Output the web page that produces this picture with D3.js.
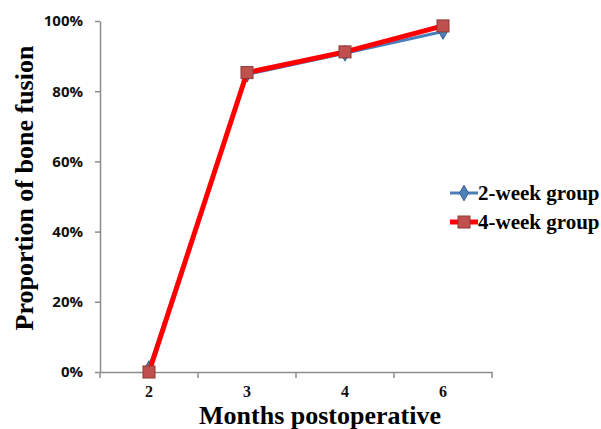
<!DOCTYPE html>
<html><head><meta charset="utf-8">
<script src="https://cdn.jsdelivr.net/npm/d3@7"></script>
<style>body{margin:0;background:#fff}</style>
</head><body>
<svg id="c" width="601" height="429"></svg>
<script>
const categories = ["2", "3", "4", "6"];
const series1Name = "2-week group";
const series1 = [0.01, 0.848, 0.908, 0.970];
const series2Name = "4-week group";
const series2 = [0.0, 0.853, 0.912, 0.986];
const yTicks = [0, 0.2, 0.4, 0.6, 0.8, 1.0];

(function () {
const svg = d3.select("#c");
const mLeft = 100, mRight = 492, mTop = 21, mBottom = 372;
const x = d3.scaleBand().domain(categories).range([mLeft, mRight]);
const y = d3.scaleLinear().domain([0, 1]).range([mBottom, mTop]);

const axisColor = "#8c8c8c";
// y axis
const ya = svg.append("g").attr("transform", `translate(${mLeft},0)`)
  .call(d3.axisLeft(y).tickValues(yTicks).tickFormat(d3.format(".0%")).tickSize(5).tickSizeOuter(0));
ya.select(".domain").attr("stroke", axisColor).attr("stroke-width", 1.5);
ya.selectAll(".tick line").attr("stroke", axisColor).attr("stroke-width", 1.5);
ya.selectAll(".tick text").attr("font-family", "Open Sans, Liberation Sans, sans-serif")
  .attr("font-weight", "bold").attr("font-size", 15).attr("fill", "#111").attr("x", -17);

// x axis
const xa = svg.append("g").attr("transform", `translate(0,${mBottom})`)
  .call(d3.axisBottom(x).tickSize(0).tickSizeOuter(0));
xa.select(".domain").attr("stroke", axisColor).attr("stroke-width", 1.5);
xa.selectAll(".tick text").attr("font-family", "Liberation Serif, Times New Roman, serif")
  .attr("font-weight", "bold").attr("font-size", 16).attr("fill", "#111")
  .attr("y", 25).attr("dy", 0);
// band boundary ticks
const bounds = categories.map(c => x(c)).concat([mRight]);
svg.append("g").selectAll("line").data(bounds).join("line")
  .attr("x1", d => d).attr("x2", d => d).attr("y1", mBottom).attr("y2", mBottom + 6)
  .attr("stroke", axisColor).attr("stroke-width", 1.5);

const cx = c => x(c) + x.bandwidth() / 2;
const line = d3.line().x((d, i) => cx(categories[i])).y(d => y(d));

// series 1 (blue)
svg.append("path").datum(series1).attr("d", line).attr("fill", "none")
  .attr("stroke", "#4a7ebb").attr("stroke-width", 3);
const diamond = d3.symbol().type(d3.symbolDiamond).size(70);
svg.append("g").selectAll("path").data(series1).join("path")
  .attr("d", diamond).attr("transform", (d, i) => `translate(${cx(categories[i])},${y(d)})`)
  .attr("fill", "#4f81bd").attr("stroke", "#385d8a").attr("stroke-width", 1);

// series 2 (red)
svg.append("path").datum(series2).attr("d", line).attr("fill", "none")
  .attr("stroke", "#ff0000").attr("stroke-width", 5);
svg.append("g").selectAll("rect").data(series2).join("rect")
  .attr("x", (d, i) => cx(categories[i]) - 6).attr("y", d => y(d) - 6)
  .attr("width", 12).attr("height", 12)
  .attr("fill", "#c0504d").attr("stroke", "#8c3836").attr("stroke-width", 1);

// axis titles
svg.append("text").attr("x", 320).attr("y", 424).attr("text-anchor", "middle")
  .attr("font-family", "Liberation Serif, Times New Roman, serif").attr("font-weight", "bold")
  .attr("font-size", 26).attr("fill", "#000").text("Months postoperative");
svg.append("text").attr("transform", `translate(33,188) rotate(-90)`)
  .attr("text-anchor", "middle")
  .attr("font-family", "Liberation Serif, Times New Roman, serif").attr("font-weight", "bold")
  .attr("font-size", 26).attr("fill", "#000").text("Proportion of bone fusion");

// legend
const lg = svg.append("g");
const ly1 = 193, ly2 = 222, lx0 = 450, lx1 = 478;
lg.append("line").attr("x1", lx0).attr("x2", lx1).attr("y1", ly1).attr("y2", ly1)
  .attr("stroke", "#4a7ebb").attr("stroke-width", 3);
lg.append("path").attr("d", diamond).attr("transform", `translate(${(lx0 + lx1) / 2},${ly1})`)
  .attr("fill", "#4f81bd").attr("stroke", "#385d8a");
lg.append("line").attr("x1", lx0).attr("x2", lx1).attr("y1", ly2).attr("y2", ly2)
  .attr("stroke", "#ff0000").attr("stroke-width", 5);
lg.append("rect").attr("x", (lx0 + lx1) / 2 - 6).attr("y", ly2 - 6).attr("width", 12).attr("height", 12)
  .attr("fill", "#c0504d").attr("stroke", "#8c3836");
[[series1Name, ly1], [series2Name, ly2]].forEach(([t, yy]) => {
  lg.append("text").attr("x", lx1).attr("y", yy + 7)
    .attr("font-family", "Liberation Serif, Times New Roman, serif").attr("font-weight", "bold")
    .attr("font-size", 21).attr("fill", "#000").text(t);
});
})();
</script>
</body></html>
